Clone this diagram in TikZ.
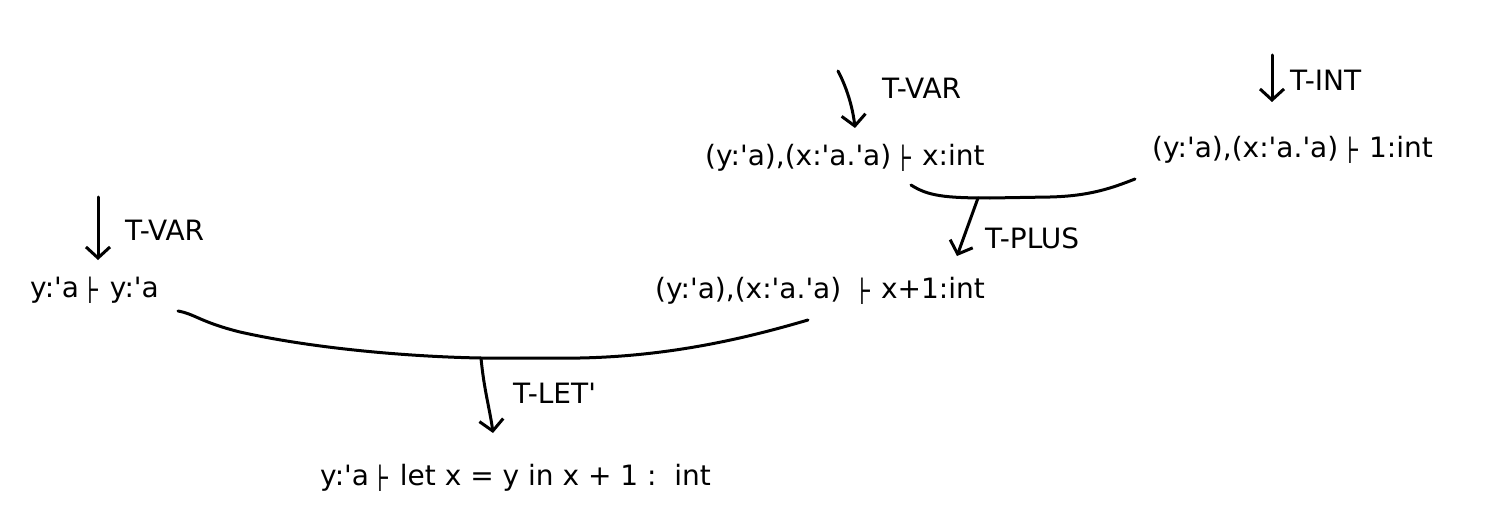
\documentclass[tikz,border=0pt]{standalone}
\usepackage{fontspec}
\usepackage{graphicx}
\setmainfont{DejaVu Sans}[Ligatures=TeXOff]
\usetikzlibrary{arrows.meta}
\newcommand{\tstile}{\raisebox{-0.22em}{\scalebox{0.9}[1.35]{⊦}}}
\tikzset{
  expr/.style={anchor=west,inner sep=0pt,font=\fontsize{28}{34}\selectfont},
  rule/.style={anchor=west,inner sep=0pt,font=\fontsize{28}{34}\selectfont},
  pen/.style={line width=3pt,line cap=round,line join=round},
  ruleArrow/.style={pen,-{Straight Barb[length=11pt,width=24pt,line width=3pt]}}
}
\begin{document}
\begin{tikzpicture}[x=1pt,y=-1pt]
\useasboundingbox (0,0) rectangle (1510,532);
% judgements
\node[expr] (A) at (705,158) {(y:'a),(x:'a.'a) \tstile{} x:int};
\node[expr] (B) at (1152,150) {(y:'a),(x:'a.'a) \tstile{} 1:int};
\node[expr] (C) at (655,291) {(y:'a),(x:'a.'a) \ \tstile{} x+1:int};
\node[expr] (D) at (30,290) {y:'a \tstile{} y:'a};
\node[expr] (E) at (320,478) {y:'a \tstile{} let x = y in x + 1 :\ \ int};
% rule labels
\node[rule] (l1) at (882,88) {T-VAR};
\node[rule] (l2) at (1290,80) {T-INT};
\node[rule] (l3) at (985,238) {T-PLUS};
\node[rule] (l4) at (125,230) {T-VAR};
\node[rule] (l5) at (513,393) {T-LET'};
% coordinates
\coordinate (v1s) at (838,71);
\coordinate (v1e) at (855,128);
\coordinate (is) at (1272,55);
\coordinate (ie) at (1272,102);
\coordinate (v2s) at (98,197);
\coordinate (v2e) at (98,260);
\coordinate (b1l) at (911,185);
\coordinate (b1r) at (1135,179);
\coordinate (b1m) at (978,198);
\coordinate (pe) at (957,256);
\coordinate (b2l) at (178,311);
\coordinate (b2r) at (808,320);
\coordinate (b2m) at (481,358);
\coordinate (le) at (493,433);
% brackets
\draw[pen] (b1l) .. controls (928,196) and (945,198) .. (990,198)
  -- (1050,197) .. controls (1090,196) and (1112,188) .. (b1r);
\draw[pen] (b2l) .. controls (195,314) and (200,322) .. (240,332)
  .. controls (320,350) and (420,357) .. (b2m) -- (580,358)
  .. controls (680,356) and (760,334) .. (b2r);
% arrows
\draw[ruleArrow] (v1s) .. controls (848,90) and (853,110) .. (v1e);
\draw[ruleArrow] (is) -- (ie);
\draw[ruleArrow] (v2s) -- (v2e);
\draw[ruleArrow] (b1m) -- (pe);
\draw[ruleArrow] (b2m) .. controls (484,390) and (490,410) .. (le);
\end{tikzpicture}
\end{document}
